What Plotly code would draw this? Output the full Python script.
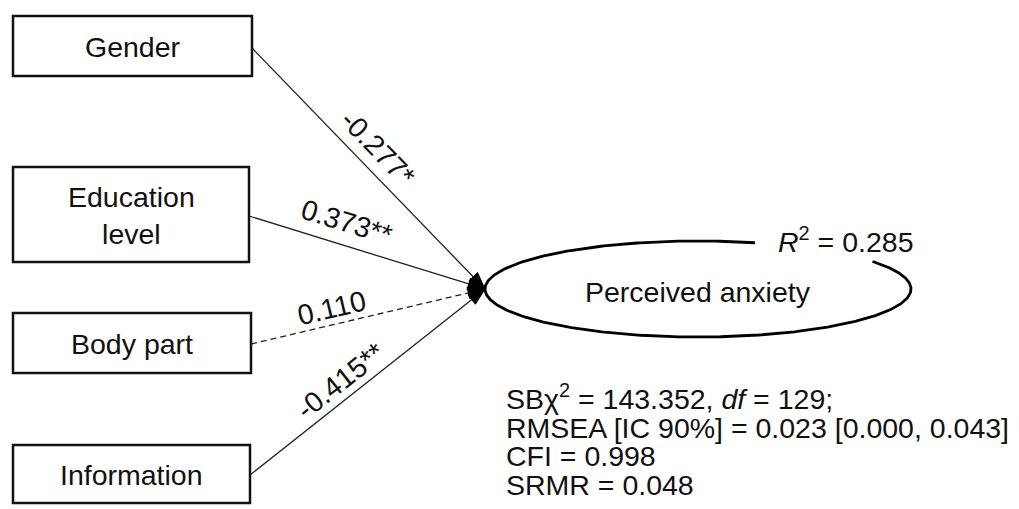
import numpy as np
import plotly.graph_objects as go

# ---------------- data ----------------
predictors = ["Gender", "Education<br>level", "Body part", "Information"]
coefficients = ["-0.277*", "0.373**", "0.110", "-0.415**"]
significant = [True, True, False, True]
outcome = "Perceived anxiety"
r_squared = "0.285"
fit_lines = [
    "SBχ<sup>2</sup> = 143.352, <i>df</i> = 129;",
    "RMSEA [IC 90%] = 0.023 [0.000, 0.043]",
    "CFI = 0.998",
    "SRMR = 0.048",
]

# ---------------- layout geometry (pixel space) ----------------
W, H = 1019, 509
FONT = "Liberation Sans, Arial, sans-serif"
FS = 28.5
INK = "#111111"
box_left = 13
box_right = [252, 249, 251, 250]
box_top = [16, 167, 313, 445]
box_bottom = [76, 262, 373, 503]
path_start_y = [48, 216, 344, 475]
label_pos = [(378, 148), (347, 222), (331, 308), (340, 381)]
tip = np.array([485.0, 289.0])
ell_c = (698.0, 289.0)
ell_rx, ell_ry = 213.0, 48.0
gap_from, gap_to = 35.0, 74.5  # degrees, gap in the ellipse outline for R2 label
head_len, head_half = 17.0, 6.0

fig = go.Figure()
shapes = []
annotations = []

# predictor boxes
for i, name in enumerate(predictors):
    shapes.append(dict(type="rect", xref="x", yref="y",
                       x0=box_left, x1=box_right[i], y0=box_top[i], y1=box_bottom[i],
                       line=dict(color=INK, width=2.5), fillcolor="white", layer="above"))
    annotations.append(dict(x=(box_left + box_right[i]) / 2, y=(box_top[i] + box_bottom[i]) / 2 + 1,
                            xref="x", yref="y", text=name, showarrow=False,
                            xanchor="center", yanchor="middle",
                            font=dict(family=FONT, size=FS, color=INK)))

# paths with arrowheads
for i, coef in enumerate(coefficients):
    start = np.array([box_right[i], path_start_y[i]], dtype=float)
    d = tip - start
    d = d / np.linalg.norm(d)
    n = np.array([-d[1], d[0]])
    base = tip - head_len * d
    end = tip - 0.7 * head_len * d
    fig.add_trace(go.Scatter(x=[start[0], end[0]], y=[start[1], end[1]], mode="lines",
                             line=dict(color="#222222", width=1.3,
                                       dash="solid" if significant[i] else "6px,4px"),
                             hoverinfo="skip"))
    c1 = base + head_half * n
    c2 = base - head_half * n
    fig.add_trace(go.Scatter(x=[tip[0], c1[0], c2[0], tip[0]], y=[tip[1], c1[1], c2[1], tip[1]],
                             mode="lines", fill="toself", fillcolor="black",
                             line=dict(color="black", width=1), hoverinfo="skip"))
    ang = float(np.degrees(np.arctan2(d[1], d[0])))
    annotations.append(dict(x=label_pos[i][0], y=label_pos[i][1], xref="x", yref="y",
                            text=coef, showarrow=False, textangle=ang,
                            xanchor="center", yanchor="middle",
                            font=dict(family=FONT, size=FS, color=INK)))

# outcome ellipse (with a gap for the R2 label)
t = np.radians(np.linspace(gap_to, gap_from + 360.0, 400))
fig.add_trace(go.Scatter(x=ell_c[0] + ell_rx * np.cos(t), y=ell_c[1] - ell_ry * np.sin(t),
                         mode="lines", line=dict(color="black", width=2.8), hoverinfo="skip"))
annotations.append(dict(x=ell_c[0], y=ell_c[1] + 3, xref="x", yref="y", text=outcome,
                        showarrow=False, xanchor="center", yanchor="middle",
                        font=dict(family=FONT, size=FS, color=INK)))
annotations.append(dict(x=846, y=240, xref="x", yref="y",
                        text="<i>R</i><sup>2</sup> = " + r_squared, showarrow=False,
                        xanchor="center", yanchor="middle",
                        font=dict(family=FONT, size=FS, color=INK)))

# fit statistics
fit_y = [397, 428, 456, 485]
for line, y in zip(fit_lines, fit_y):
    annotations.append(dict(x=504, y=y, xref="x", yref="y", text=line, showarrow=False,
                            xanchor="left", yanchor="middle",
                            font=dict(family=FONT, size=FS, color=INK)))

fig.update_layout(
    width=W, height=H, margin=dict(l=0, r=0, t=0, b=0),
    paper_bgcolor="white", plot_bgcolor="white", showlegend=False,
    xaxis=dict(range=[0, W], visible=False, fixedrange=True),
    yaxis=dict(range=[H, 0], visible=False, fixedrange=True),
    shapes=shapes, annotations=annotations,
)

fig.write_html("out.html", config={"displayModeBar": False},
               post_script="document.body.style.margin='0';")
